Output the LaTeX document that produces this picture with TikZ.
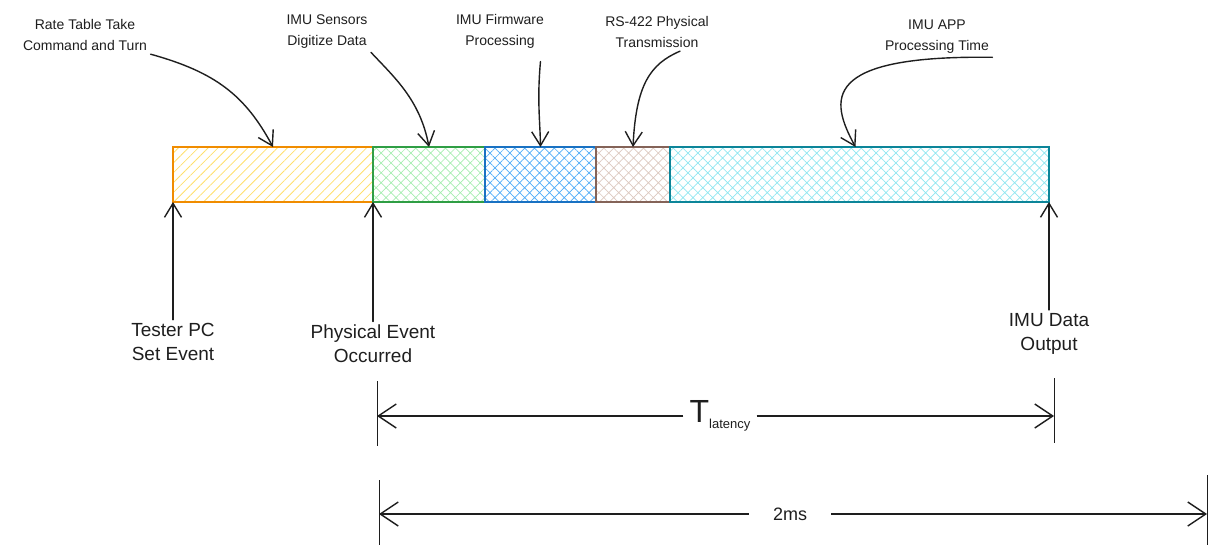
\documentclass[tikz,border=0pt]{standalone}
\usepackage{fontspec}
\setmainfont{Liberation Sans}
\usetikzlibrary{arrows.meta}
\usetikzlibrary{patterns.meta}

\definecolor{encre}{HTML}{1E1E1E}
\definecolor{orangebord}{HTML}{F08C00}
\definecolor{orangehach}{HTML}{FFDF6B}
\definecolor{vertbord}{HTML}{2F9E44}
\definecolor{verthach}{HTML}{A5EDB0}
\definecolor{bleubord}{HTML}{1971C2}
\definecolor{bleuhach}{HTML}{4DABF7}
\definecolor{brunbord}{HTML}{846358}
\definecolor{brunhach}{HTML}{DCC8BF}
\definecolor{cyanbord}{HTML}{0C8599}
\definecolor{cyanhach}{HTML}{8FE6F0}

\begin{document}
\begin{tikzpicture}[x=1pt,y=-1pt,
        bloc/.style={draw, line width=2pt, inner sep=0pt, outer sep=0pt, minimum height=55pt, anchor=north west},%segments de la barre
        raye/.style={pattern={Lines[angle=45,distance=7pt,line width=0.8pt]}},%hachures simples
        croise/.style={pattern={Hatch[angle=45,distance=7pt,line width=0.7pt]}},%hachures croisees
        fleche/.style={-{Straight Barb[length=14pt,width=17pt]}, line width=1.4pt, draw=encre, line cap=round},
        cote/.style={-{Straight Barb[length=18pt,width=24pt]}, line width=1.4pt, draw=encre},
        trait/.style={line width=1pt, draw=encre},
        petit/.style={font=\fontsize{14}{21}\selectfont, align=center, text=encre},
        grand/.style={font=\fontsize{19}{24}\selectfont, align=center, text=encre}]
    \useasboundingbox (0,0) rectangle (1215,554);

    % la barre
    \node[bloc, draw=orangebord, raye, pattern color=orangehach, minimum width=200pt] (orange) at (173,147) {};
    \node[bloc, draw=vertbord, croise, pattern color=verthach, minimum width=112pt] (vert) at (orange.north east) {};
    \node[bloc, draw=bleubord, croise, pattern color=bleuhach, minimum width=111pt] (bleu) at (vert.north east) {};
    \node[bloc, draw=brunbord, croise, pattern color=brunhach, minimum width=74pt] (brun) at (bleu.north east) {};
    \node[bloc, draw=cyanbord, croise, pattern color=cyanhach, minimum width=379pt] (cyan) at (brun.north east) {};

    % etiquettes du haut
    \node[petit] (rate) at (85,35) {Rate Table Take\\Command and Turn};
    \node[petit] (capteurs) at (327,32) {IMU Sensors\\Digitize Data};
    \node[petit] (firmware) at (500,31) {IMU Firmware\\Processing};
    \node[petit] (rs) at (657,32) {RS-422 Physical\\Transmission};
    \node[petit] (app) at (937,37) {IMU APP\\Processing Time};

    \draw[fleche] (rate.south east) .. controls (215,72) and (245,95) .. (orange.north);
    \draw[fleche] (capteurs.south east) .. controls (395,78) and (420,100) .. (vert.north);
    \draw[fleche] ([xshift=-7pt,yshift=-10pt]firmware.south east) .. controls (537,100) and (540,120) .. (bleu.north);
    \draw[fleche] ([xshift=23pt]rs.south) .. controls (650,64) and (636,85) .. (brun.north);
    \draw[fleche] (app.south east) .. controls (820,55) and (830,100) .. ([xshift=-4pt]cyan.north);

    % etiquettes du bas
    \node[grand] (testeur) at (173,342) {Tester PC\\Set Event};
    \node[grand] (physique) at (373,344) {Physical Event\\Occurred};
    \node[grand] (sortie) at (1049,334) {IMU Data\\Output};

    \draw[fleche] (testeur.north) -- (orange.south west);
    \draw[fleche] (physique.north) -- (vert.south west);
    \draw[fleche] (sortie.north) -- (cyan.south east);

    % cotes
    \coordinate (c1h) at (377,381);
    \coordinate (c1b) at (377,446);
    \coordinate (c2h) at (1054,378);
    \coordinate (c2b) at (1054,443);
    \coordinate (c3h) at (379,480);
    \coordinate (c3b) at (379,545);
    \coordinate (c4h) at (1207,475);
    \coordinate (c4b) at (1207,545);
    \draw[trait] (c1h) -- (c1b);
    \draw[trait] (c2h) -- (c2b);
    \draw[trait] (c3h) -- (c3b);
    \draw[trait] (c4h) -- (c4b);

    \node[inner xsep=6pt, text=encre] (tlat) at (720,416) {{\fontsize{32}{32}\selectfont T}\raisebox{-6pt}{\fontsize{13}{13}\selectfont latency}};
    \draw[cote] (tlat.west) -- (c1h |- tlat.west);
    \draw[cote] (tlat.east) -- (c2h |- tlat.east);

    \node[inner xsep=24pt, text=encre, font=\fontsize{18}{18}\selectfont] (deuxms) at (790,514) {2ms};
    \draw[cote] (deuxms.west) -- (c3h |- deuxms.west);
    \draw[cote] (deuxms.east) -- (c4h |- deuxms.east);
\end{tikzpicture}
\end{document}
